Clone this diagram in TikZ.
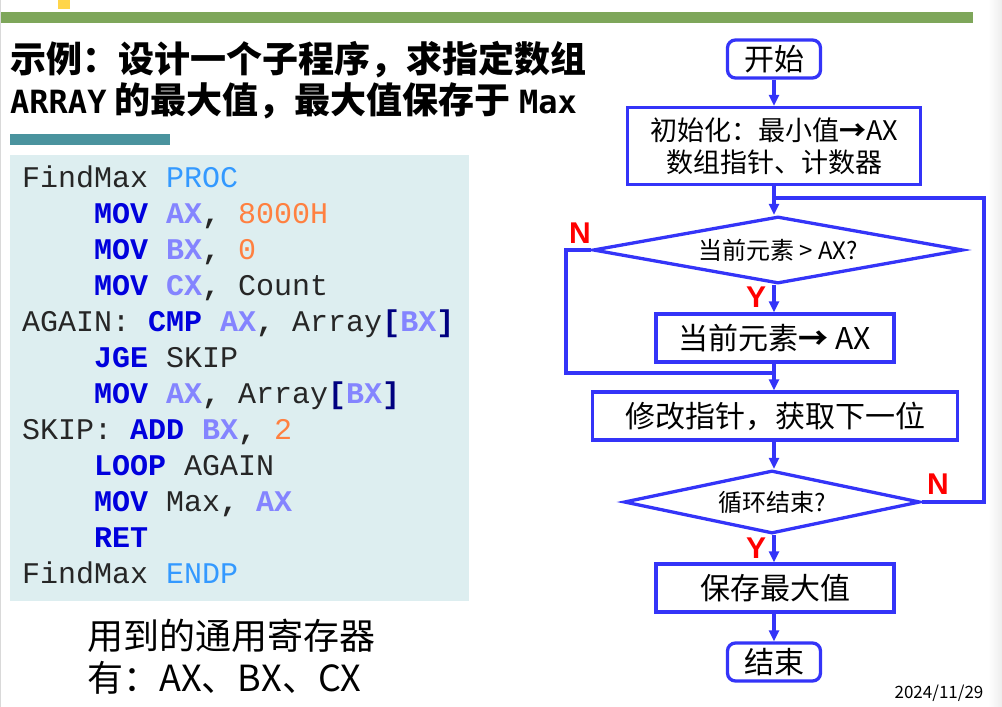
\documentclass[tikz,border=0pt]{standalone}
\usepackage{fontspec}
\usepackage{tikz}
\usetikzlibrary{shapes.geometric,arrows.meta}
\setmainfont{Noto Sans CJK SC}
\newfontfamily\codefont{Liberation Mono}
\newfontfamily\titlemono{DejaVu Sans Mono}
\newfontfamily\yesnofont{Liberation Sans}
\definecolor{flowblue}{HTML}{3434F8}
\definecolor{kwblue}{HTML}{0000DD}
\definecolor{regblue}{HTML}{8484FF}
\definecolor{immorange}{HTML}{FF8040}
\definecolor{dirblue}{HTML}{3399FF}
\definecolor{brknavy}{HTML}{000080}
\definecolor{codebg}{HTML}{DDEEF0}
\definecolor{bargreen}{HTML}{7EA65A}
\definecolor{barteal}{HTML}{4A939E}
\definecolor{baryellow}{HTML}{FFD54A}
\newcommand{\asmkw}[1]{\textcolor{kwblue}{\bfseries #1}}
\newcommand{\asmreg}[1]{\textcolor{regblue}{\bfseries #1}}
\newcommand{\asmimm}[1]{\textcolor{immorange}{#1}}
\newcommand{\asmdir}[1]{\textcolor{dirblue}{#1}}
\newcommand{\asmbrk}[1]{\textcolor{brknavy}{\bfseries #1}}
\newcommand{\cm}{\textbf{,}}

\begin{document}
\begin{tikzpicture}[x=1pt,y=-1pt,
  code/.style={font=\codefont\fontsize{30}{36}\selectfont,anchor=base west,inner sep=0,text=black!85},
  flow/.style={draw=flowblue,line width=3.3pt},
  arr/.style={flow,-{Triangle[length=11pt,width=10pt]}},
  box/.style={flow,inner sep=0,minimum width=#1},
  term/.style={box=93pt,rounded corners=8pt,minimum height=38pt,font=\fontsize{30}{34}\selectfont},
  dec/.style={flow,diamond,inner sep=0,font=\fontsize{24}{28}\selectfont},
  yn/.style={font=\yesnofont\bfseries\fontsize{30}{34}\selectfont,text=red,inner sep=0}]
\useasboundingbox (0,0) rectangle (1002,707);
%bars
\fill[bargreen] (0,12) rectangle (973,23);
\fill[baryellow] (58,0) rectangle (70,9);
\fill[barteal] (10,134) rectangle (170,145);
\draw[black!15] (0.5,0)--(0.5,707);
\shade[left color=white,right color=black!7] (988,0) rectangle (1002,707);
%title
\node[anchor=west,inner sep=0,font=\bfseries\fontsize{36}{40}\selectfont] (title1) at (10,60) {示例：设计一个子程序，求指定数组};
\node[anchor=west,inner sep=0,font=\bfseries\fontsize{36}{40}\selectfont] (title2) at (10,101)
  {{\titlemono\fontsize{32}{40}\selectfont ARRAY} 的最大值，最大值保存于 {\titlemono\fontsize{32}{40}\selectfont Max}};
%code
\fill[codebg] (10,155) rectangle (469,601);
\node[code] (c1) at (22,187) {FindMax \asmdir{PROC}};
\node[code] (c2) at (94,223) {\asmkw{MOV} \asmreg{AX}\cm{} \asmimm{8000H}};
\node[code] (c3) at (94,259) {\asmkw{MOV} \asmreg{BX}\cm{} \asmimm{0}};
\node[code] (c4) at (94,295) {\asmkw{MOV} \asmreg{CX}\cm{} Count};
\node[code] (c5) at (22,331) {AGAIN: \asmkw{CMP} \asmreg{AX}\cm{} Array\asmbrk{[}\asmreg{BX}\asmbrk{]}};
\node[code] (c6) at (94,367) {\asmkw{JGE} SKIP};
\node[code] (c7) at (94,403) {\asmkw{MOV} \asmreg{AX}\cm{} Array\asmbrk{[}\asmreg{BX}\asmbrk{]}};
\node[code] (c8) at (22,439) {SKIP: \asmkw{ADD} \asmreg{BX}\cm{} \asmimm{2}};
\node[code] (c9) at (94,475) {\asmkw{LOOP} AGAIN};
\node[code] (c10) at (94,511) {\asmkw{MOV} Max\cm{} \asmreg{AX}};
\node[code] (c11) at (94,547) {\asmkw{RET}};
\node[code] (c12) at (22,583) {FindMax \asmdir{ENDP}};
%regs
\node[anchor=west,inner sep=0,font=\fontsize{36}{40}\selectfont] (regs1) at (87,636) {用到的通用寄存器};
\node[anchor=west,inner sep=0,font=\fontsize{36}{40}\selectfont] (regs2) at (87,678) {有：AX、BX、CX};
%flowchart
\node[term] (start) at (774,59) {开始};
\node[box=293pt,minimum height=77pt,align=center,font=\fontsize{27}{32}\selectfont] (init) at (774,146) {初始化：最小值\textbf{→}AX\\数组指针、计数器};
\node[dec,aspect=5.5,minimum width=370pt,minimum height=67pt] (cmp) at (778,250) {当前元素 > AX?};
\node[box=238pt,minimum height=48pt,font=\fontsize{30}{34}\selectfont] (setax) at (775,338) {当前元素\textbf{→} AX};
\node[box=365pt,minimum height=48pt,font=\fontsize{30}{34}\selectfont] (next) at (775,416) {修改指针，获取下一位};
\node[dec,aspect=4.7,minimum width=296pt,minimum height=63pt] (done) at (772,502) {循环结束?};
\node[box=238pt,minimum height=48pt,font=\fontsize{30}{34}\selectfont] (save) at (775,588) {保存最大值};
\node[term] (stop) at (774,662) {结束};
\coordinate (top) at (774,198);
\coordinate (mid) at (774,373);
\coordinate (lpr) at (984,198);
\coordinate (lpl) at (566,373);
\draw[arr] (start)--(init);
\draw[flow] (init.south)--(top);
\draw[arr] (top)--(top|-cmp.north);
\draw[arr] (cmp.south-|top)--(top|-setax.north);
\draw[flow] (setax.south-|top)--(mid);
\draw[arr] (mid)--(mid|-next.north);
\draw[flow] (cmp.west) -| (lpl) -- (mid);
\draw[arr] (next.south-|top)--(top|-done.north);
\draw[flow] (done.east) -| (lpr) -- (top);
\draw[arr] (done.south-|top)--(top|-save.north);
\draw[arr] (save.south-|top)--(stop);
%labels
\node[yn] (n1) at (580,233) {N};
\node[yn] (y1) at (756,297) {Y};
\node[yn] (n2) at (938,484) {N};
\node[yn] (y2) at (756,548) {Y};
\node[inner sep=0,font=\fontsize{17}{20}\selectfont] (date) at (939,693) {2024/11/29};
\end{tikzpicture}
\end{document}
